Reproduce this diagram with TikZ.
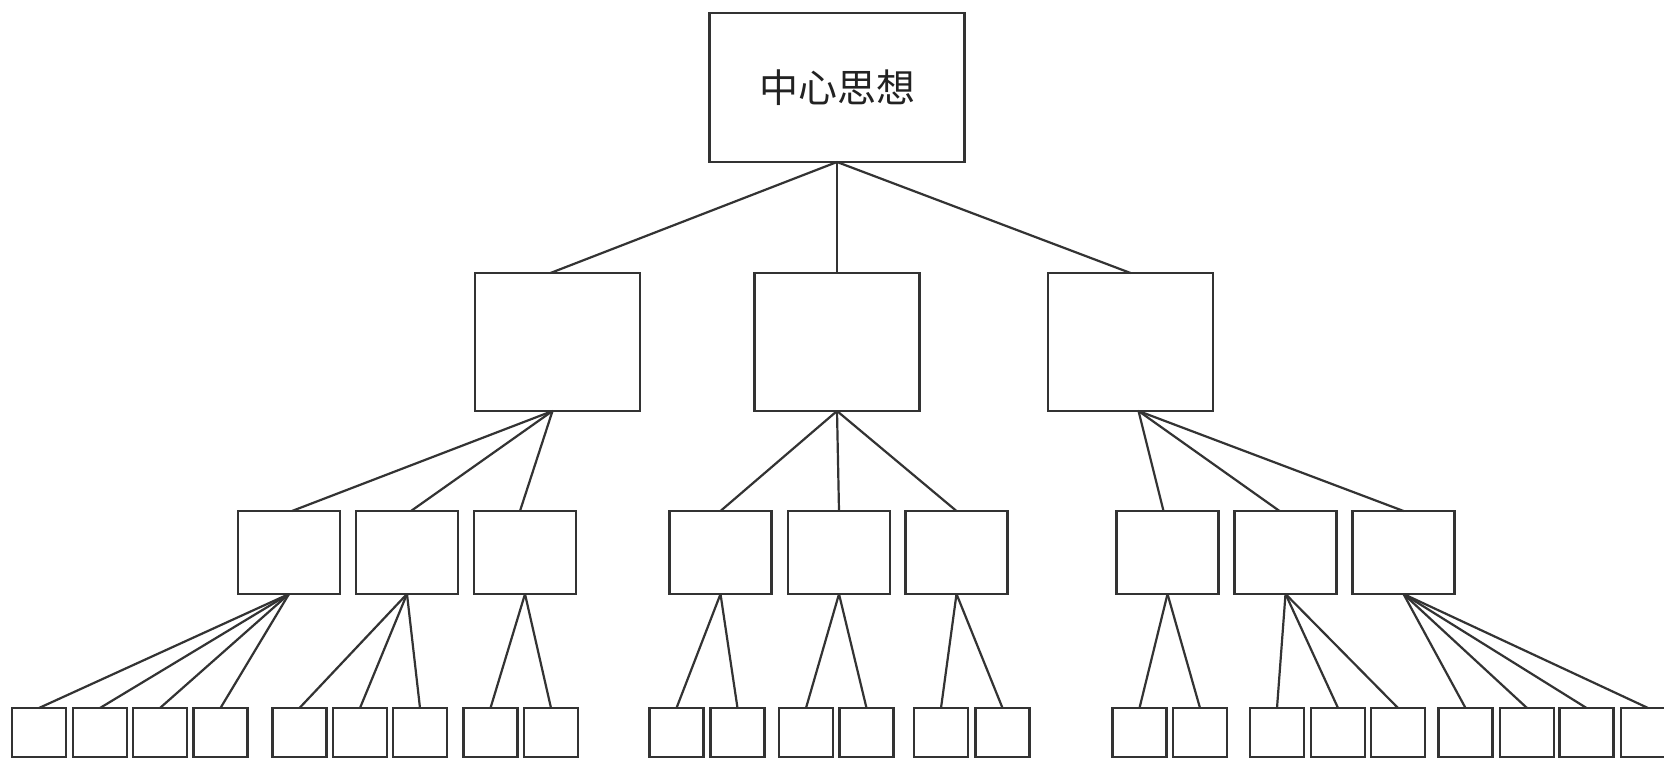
\documentclass[tikz,border=0pt]{standalone}
\usepackage{fontspec}
\newfontfamily\cjk{Noto Sans CJK SC}
\definecolor{linegray}{HTML}{333333}
\definecolor{textgray}{HTML}{222222}
\tikzset{
  box/.style={draw=linegray, line width=1.15pt, fill=white, inner sep=0pt, outer sep=0pt},
  topbox/.style={box, minimum width=127.5pt, minimum height=74.5pt,
    font=\cjk\fontsize{19.5}{23}\selectfont, text=textgray},
  lvtwo/.style={box, minimum width=82.5pt, minimum height=69pt},
  lvthree/.style={box, minimum width=51pt, minimum height=41.5pt},
  lvfour/.style={box, minimum width=27pt, minimum height=24.5pt},
  conn/.style={draw=linegray, line width=1.1pt}
}
\begin{document}
\begin{tikzpicture}[x=0.5pt,y=-0.5pt]
\useasboundingbox (0,0) rectangle (1664,759);
\clip (0,0) rectangle (1664,759);
\fill[white] (0,0) rectangle (1664,759);
% top
\node[topbox] (T) at (837,87.5) {中心思想};
% level 2
\node[lvtwo] (A) at (557.5,342) {};
\node[lvtwo] (B) at (837,342) {};
\node[lvtwo] (C) at (1130.5,342) {};
% level 3
\foreach \n/\x in {A1/289,A2/407,A3/525,B1/720.5,B2/839,B3/956.5,C1/1167.5,C2/1285.5,C3/1403.5}
  \node[lvthree] (\n) at (\x,552.5) {};
% level 4
\foreach \n/\x in {a1/39,a2/100,a3/160,a4/220.5,a5/299.5,a6/360,a7/420,a8/490.5,a9/551,
                   b1/676.5,b2/737.5,b3/806,b4/866.5,b5/941,b6/1002.5,
                   c1/1139.5,c2/1200,c3/1277,c4/1338,c5/1398,c6/1465.5,c7/1527,c8/1586.5,c9/1648}
  \node[lvfour] (\n) at (\x,732.5) {};
% connectors top -> level 2
\draw[conn] (T.south) -- ([xshift=-3.5pt]A.north);
\draw[conn] (T.south) -- (B.north);
\draw[conn] (T.south) -- (C.north);
% level 2 -> level 3
\foreach \c/\s in {A1/1.5,A2/2,A3/-2.5}
  \draw[conn] ([xshift=-2.5pt]A.south) -- ([xshift=\s pt]\c.north);
\foreach \c in {B1,B2,B3}
  \draw[conn] (B.south) -- (\c.north);
\foreach \c/\s in {C1/-2,C2/-3,C3/0}
  \draw[conn] ([xshift=4pt]C.south) -- ([xshift=\s pt]\c.north);
% level 3 -> level 4
\foreach \p/\c in {A1/a1,A1/a2,A1/a3,A1/a4,A2/a5,A2/a6,A2/a7,A3/a8,A3/a9,
                   B1/b1,B1/b2,B2/b3,B2/b4,B3/b5,B3/b6,
                   C1/c1,C1/c2,C2/c3,C2/c4,C2/c5,C3/c6,C3/c7,C3/c8,C3/c9}
  \draw[conn] (\p.south) -- (\c.north);
\end{tikzpicture}
\end{document}
